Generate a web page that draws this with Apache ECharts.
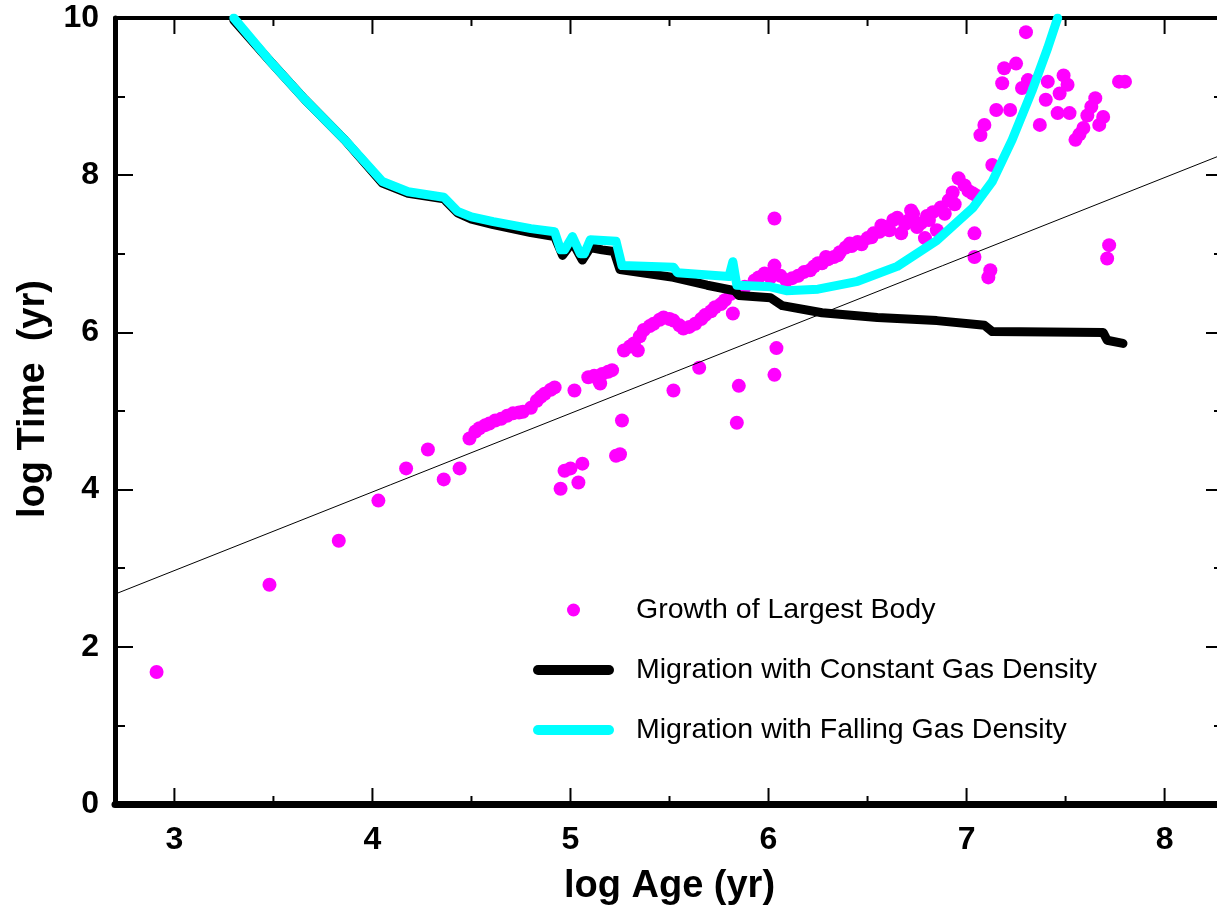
<!DOCTYPE html>
<html>
<head>
<meta charset="utf-8">
<script src="https://cdn.jsdelivr.net/npm/echarts@6/dist/echarts.min.js"></script>
<style>
html,body{margin:0;padding:0;background:#fff;}
#chart{width:1217px;height:915px;}
</style>
</head>
<body>
<div id="chart"></div>
<script>
// ---- data ----
const seriesNames = ['Growth of Largest Body', 'Migration with Constant Gas Density', 'Migration with Falling Gas Density'];
const xAxisName = 'log Age (yr)';
const yAxisName = 'log Time  (yr)';

const xRange = [2.7, 8.3];      // visible age range
const xMajorTicks = [3, 4, 5, 6, 7, 8];
const xMinorTicks = [3.5, 4.5, 5.5, 6.5, 7.5];
const yRange = [0, 10];

// magenta scatter: growth of largest body  [log age, log time]
const growthPoints = [
  [2.91,1.68],[3.48,2.79],[3.83,3.35],[4.03,3.86],[4.17,4.27],[4.28,4.51],[4.36,4.13],[4.44,4.27],[4.49,4.65],
  [4.52,4.74],[4.54,4.78],[4.57,4.82],[4.59,4.84],[4.62,4.88],[4.65,4.90],[4.68,4.94],[4.71,4.97],[4.74,4.98],
  [4.76,4.99],[4.80,5.04],[4.83,5.13],[4.85,5.18],[4.87,5.22],[4.90,5.27],[4.92,5.30],
  [4.95,4.01],[4.97,4.24],[5.00,4.27],[5.04,4.09],[5.06,4.33],[5.23,4.43],[5.25,4.45],[5.26,4.88],
  [5.02,5.26],[5.09,5.43],[5.12,5.45],[5.16,5.47],[5.19,5.50],[5.21,5.52],[5.15,5.35],[5.14,5.40],
  [5.27,5.77],[5.30,5.82],[5.32,5.86],[5.34,5.77],[5.35,5.95],[5.37,6.03],[5.40,6.08],[5.42,6.11],[5.45,6.16],
  [5.47,6.19],[5.50,6.17],[5.52,6.15],[5.55,6.09],[5.57,6.05],[5.60,6.07],[5.63,6.11],[5.66,6.17],[5.68,6.22],
  [5.71,6.27],[5.73,6.32],[5.76,6.36],[5.78,6.41],[5.81,6.49],[5.82,6.24],
  [5.52,5.26],[5.65,5.55],[5.84,4.85],[5.85,5.32],[6.03,5.46],[6.04,5.80],
  [5.88,6.58],[5.93,6.66],[5.95,6.70],[5.98,6.75],[6.01,6.70],[6.03,6.85],[6.03,7.45],[6.06,6.72],
  [6.09,6.66],[6.12,6.69],[6.15,6.72],[6.18,6.77],[6.21,6.79],[6.23,6.84],[6.25,6.88],[6.27,6.88],[6.29,6.96],
  [6.30,6.93],[6.33,6.96],[6.35,6.98],[6.36,7.02],[6.39,7.08],[6.41,7.13],[6.42,7.10],[6.45,7.15],[6.47,7.12],
  [6.50,7.20],[6.52,7.21],[6.53,7.26],[6.56,7.28],[6.57,7.36],[6.59,7.34],[6.61,7.30],[6.63,7.43],[6.65,7.46],
  [6.67,7.26],[6.69,7.38],[6.71,7.43],[6.72,7.55],[6.73,7.51],[6.75,7.34],[6.77,7.39],[6.79,7.20],[6.80,7.48],
  [6.81,7.43],[6.83,7.53],[6.85,7.30],[6.87,7.59],[6.89,7.51],[6.91,7.68],[6.93,7.78],[6.94,7.63],[6.96,7.96],
  [6.99,7.87],[7.01,7.80],[7.03,7.77],[7.05,7.74],[7.13,8.13],
  [7.04,7.26],[7.04,6.96],[7.11,6.70],[7.12,6.79],
  [7.07,8.51],[7.09,8.64],[7.15,8.83],[7.22,8.83],[7.18,9.17],[7.19,9.36],[7.25,9.42],[7.28,9.11],[7.31,9.21],[7.30,9.82],
  [7.37,8.64],[7.40,8.96],[7.41,9.19],[7.46,8.79],[7.47,9.04],[7.49,9.27],[7.51,9.15],[7.52,8.79],
  [7.55,8.45],[7.57,8.52],[7.59,8.60],[7.61,8.76],[7.63,8.87],[7.65,8.98],[7.67,8.64],[7.69,8.74],
  [7.71,6.94],[7.72,7.11],[7.77,9.19],[7.80,9.19]
];

// black thick line: migration with constant gas density
const constantGas = [
  [3.30,9.97],[3.48,9.46],[3.66,8.96],[3.86,8.45],[4.05,7.90],[4.18,7.77],[4.36,7.70],[4.43,7.52],[4.50,7.44],
  [4.61,7.37],[4.80,7.27],[4.92,7.22],[4.96,6.98],[5.01,7.15],[5.06,6.92],[5.10,7.08],[5.16,7.05],[5.22,7.03],
  [5.25,6.80],[5.52,6.70],[5.69,6.60],[5.83,6.53],[5.85,6.47],[6.01,6.44],[6.07,6.34],[6.27,6.25],[6.55,6.19],
  [6.85,6.15],[7.09,6.09],[7.13,6.01],[7.69,6.00],[7.71,5.90],[7.79,5.86]
];

// cyan thick line: migration with falling gas density
const fallingGas = [
  [3.30,10.0],[3.48,9.46],[3.66,8.96],[3.86,8.45],[4.05,7.92],[4.18,7.79],[4.36,7.72],[4.43,7.54],[4.50,7.47],
  [4.61,7.41],[4.80,7.32],[4.92,7.28],[4.95,7.05],[4.97,7.05],[5.01,7.22],[5.05,7.00],[5.07,7.00],[5.10,7.18],
  [5.23,7.16],[5.26,6.85],[5.52,6.83],[5.54,6.76],[5.80,6.71],[5.82,6.90],[5.84,6.60],[6.01,6.58],[6.09,6.53],
  [6.25,6.55],[6.45,6.65],[6.65,6.84],[6.85,7.17],[7.03,7.58],[7.13,7.92],[7.23,8.45],[7.33,9.07],[7.41,9.62],[7.46,10.0]
];

// thin reference line
const referenceLine = [[2.70,2.67],[8.30,8.27]];

// ---- layout ----
const FONT = '"Liberation Sans", Arial, Helvetica, sans-serif';
const W = 1217, H = 915;
const PLOT_LEFT = 115, PLOT_RIGHT_PX = 1224, PLOT_TOP = 18, PLOT_BOTTOM = 111;
const pxPerUnit = (PLOT_RIGHT_PX - PLOT_LEFT) / (xRange[1] - xRange[0]);
function xpx(v) { return PLOT_LEFT + (v - xRange[0]) * pxPerUnit; }

// label grid aligned so that its min is the first whole tick
const labelMin = xMajorTicks[0], labelMax = xMajorTicks[0] + 6;
const baseGrid = {top: PLOT_TOP, bottom: PLOT_BOTTOM, containLabel: false, outerBoundsMode: 'none'};
const gridData  = Object.assign({left: PLOT_LEFT, right: W - PLOT_RIGHT_PX}, baseGrid);
const gridLabel = Object.assign({left: xpx(labelMin), right: W - xpx(labelMax)}, baseGrid);

const chart = echarts.init(document.getElementById('chart'), null, {renderer: 'canvas'});

function xLineAxis(pos, lineW, withName) {
  return {
    type: 'value', gridIndex: 0, position: pos, min: xRange[0], max: xRange[1],
    name: withName ? xAxisName : '', nameLocation: 'middle', nameGap: 64,
    nameTextStyle: {fontFamily: FONT, fontSize: 38, fontWeight: 'bold', color: '#000'},
    axisLine: {show: true, onZero: false, lineStyle: {color: '#000', width: lineW}},
    axisTick: {show: false}, minorTick: {show: false}, axisLabel: {show: false},
    splitLine: {show: false}, z: 3
  };
}
function xLabelAxis() {
  return {
    type: 'value', gridIndex: 1, position: 'bottom', min: labelMin, max: labelMax, interval: 1,
    axisLine: {show: false, onZero: false},
    axisTick: {show: false}, minorTick: {show: false},
    axisLabel: {show: true, margin: 20, fontFamily: FONT, fontSize: 32, fontWeight: 'bold', color: '#000'},
    splitLine: {show: false}
  };
}
function yAxisCfg(pos, showLabels, lineW) {
  return {
    type: 'value', gridIndex: 0, position: pos, min: yRange[0], max: yRange[1], interval: 2,
    name: showLabels ? yAxisName : '', nameLocation: 'middle', nameGap: 62, nameRotate: 90,
    nameTextStyle: {fontFamily: FONT, fontSize: 38, fontWeight: 'bold', color: '#000', padding: [0, 0, 0, 24]},
    axisLine: {show: true, onZero: false, lineStyle: {color: '#000', width: lineW}},
    axisTick: {show: true, inside: true, length: 18, lineStyle: {color: '#000', width: 2}},
    minorTick: {show: true, splitNumber: 2, length: 10, lineStyle: {color: '#000', width: 2}},
    axisLabel: {show: showLabels, margin: 16, fontFamily: FONT, fontSize: 32, fontWeight: 'bold', color: '#000'},
    splitLine: {show: false}, minorSplitLine: {show: false}
  };
}

const pill = 'path://M5,0 L76,0 A5,5 0 0 1 76,10 L5,10 A5,5 0 0 1 5,0 Z';

// x-axis tick marks (bottom and top edges), placed through the axis scale
const tickValues = xMajorTicks.concat(xMinorTicks).map(v => [v, yRange[0]]);
function renderTick(params, api) {
  const v = api.value(0);
  const len = Number.isInteger(v) ? 16 : 8;
  const pb = api.coord([v, yRange[0]]);
  const pt = api.coord([v, yRange[1]]);
  const st = {stroke: '#000', lineWidth: 2};
  return {
    type: 'group',
    children: [
      {type: 'line', shape: {x1: pb[0], y1: pb[1], x2: pb[0], y2: pb[1] - len}, style: st},
      {type: 'line', shape: {x1: pt[0], y1: pt[1], x2: pt[0], y2: pt[1] + len}, style: st}
    ]
  };
}

chart.setOption({
  animation: false,
  backgroundColor: '#fff',
  grid: [gridData, gridLabel],
  xAxis: [xLineAxis('bottom', 7, true), xLineAxis('top', 4, false), xLabelAxis()],
  yAxis: [yAxisCfg('left', true, 5), yAxisCfg('right', false, 5),
          {type: 'value', gridIndex: 1, min: yRange[0], max: yRange[1], show: false}],
  legend: {
    show: true, orient: 'vertical', left: 528, top: 590,
    itemWidth: 81, itemHeight: 13, itemGap: 30, symbolKeepAspect: true,
    data: [
      {name: seriesNames[0], icon: 'circle'},
      {name: seriesNames[1], icon: pill},
      {name: seriesNames[2], icon: pill}
    ],
    textStyle: {fontFamily: FONT, fontSize: 28.5, color: '#000', lineHeight: 30, padding: [0, 0, 0, 17]},
    selectedMode: false
  },
  series: [
    {
      name: seriesNames[0], type: 'scatter', data: growthPoints, symbol: 'circle', symbolSize: 14,
      itemStyle: {color: '#ff00ff', opacity: 1}, z: 2
    },
    {
      name: 'ref', type: 'line', data: referenceLine, symbol: 'none', silent: true,
      lineStyle: {color: '#000', width: 1}, z: 3
    },
    {
      name: seriesNames[1], type: 'line', data: constantGas, symbol: 'none',
      lineStyle: {color: '#000', width: 9, cap: 'round', join: 'round'}, itemStyle: {color: '#000'}, z: 4
    },
    {
      name: seriesNames[2], type: 'line', data: fallingGas, symbol: 'none',
      lineStyle: {color: '#00ffff', width: 9, cap: 'round', join: 'round'}, itemStyle: {color: '#00ffff'}, z: 5
    },
    {
      name: 'xTicks', type: 'custom', xAxisIndex: 0, yAxisIndex: 0, data: tickValues,
      encode: {x: 0, y: 1}, renderItem: renderTick, silent: true, clip: false, z: 6
    }
  ]
});
</script>
</body>
</html>
